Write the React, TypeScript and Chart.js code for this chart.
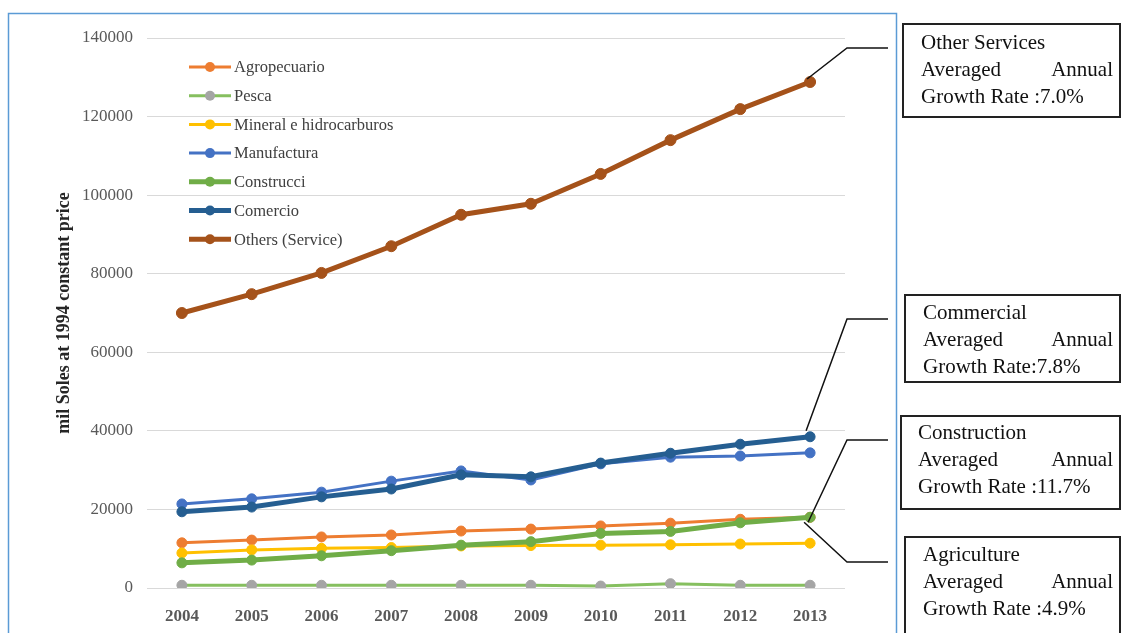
import React, { useEffect, useRef } from "react";
import { Chart, registerables } from "chart.js";

Chart.register(...registerables);

const years = ["2004", "2005", "2006", "2007", "2008", "2009", "2010", "2011", "2012", "2013"];

const agropecuario = [11500, 12200, 13000, 13500, 14500, 15000, 15800, 16500, 17500, 18000];
const pesca = [700, 700, 700, 700, 700, 700, 500, 1100, 700, 700];
const mineral = [8900, 9700, 10100, 10300, 10700, 10800, 10900, 11000, 11200, 11400];
const manufactura = [21400, 22700, 24400, 27200, 29800, 27500, 31600, 33300, 33600, 34400];
const construccion = [6400, 7100, 8200, 9500, 10900, 11800, 13900, 14400, 16600, 18000];
const comercio = [19400, 20600, 23200, 25200, 28800, 28300, 31800, 34300, 36600, 38500];
const others = [70000, 74800, 80200, 87000, 95000, 97800, 105400, 114000, 121900, 128800];

const seriesNames = [
  "Agropecuario",
  "Pesca",
  "Mineral e hidrocarburos",
  "Manufactura",
  "Construcci",
  "Comercio",
  "Others (Service)",
];

const yTicks = [0, 20000, 40000, 60000, 80000, 100000, 120000, 140000];

const annotations = [
  { title: "Other Services", rate: "Growth Rate :7.0%", series: 6 },
  { title: "Commercial", rate: "Growth Rate:7.8%", series: 5 },
  { title: "Construction", rate: "Growth Rate :11.7%", series: 4 },
  { title: "Agriculture", rate: "Growth Rate :4.9%", series: 0 },
];

const SERIF = '"Liberation Serif", "DejaVu Serif", serif';

export default function App() {
  const ref = useRef<HTMLCanvasElement | null>(null);

  useEffect(() => {
    const canvas = ref.current;
    if (!canvas) return;

    const lineColors = ["#ed7d31", "#86bf5f", "#ffc000", "#4472c4", "#70ad47", "#255e91", "#a5521a"];
    const pointColors = ["#ed7d31", "#a5a5a5", "#ffc000", "#4472c4", "#70ad47", "#255e91", "#a5521a"];
    const widths = [3, 3, 3, 3, 5, 5, 5];
    const radii = [5, 5, 5, 5, 5, 5, 5.5];
    const allData = [agropecuario, pesca, mineral, manufactura, construccion, comercio, others];

    const datasets = allData.map((d, i) => ({
      label: seriesNames[i],
      data: d,
      borderColor: lineColors[i],
      backgroundColor: pointColors[i],
      pointBackgroundColor: pointColors[i],
      pointBorderColor: pointColors[i],
      borderWidth: widths[i],
      pointRadius: radii[i],
      pointBorderWidth: 1,
      tension: 0,
      order: 10 - i,
    }));

    const overlay = {
      id: "overlay",
      afterDraw(chart: any) {
        const ctx = chart.ctx as CanvasRenderingContext2D;
        const xs = chart.scales.x;
        const ys = chart.scales.y;
        ctx.save();

        // legend
        const legX0 = 189;
        const legX1 = 231;
        const legY0 = 67;
        const legStep = 28.7;
        ctx.font = `16.5px ${SERIF}`;
        ctx.textBaseline = "middle";
        ctx.textAlign = "left";
        for (let i = 0; i < seriesNames.length; i++) {
          const y = legY0 + i * legStep;
          ctx.strokeStyle = lineColors[i];
          ctx.lineWidth = widths[i];
          ctx.beginPath();
          ctx.moveTo(legX0, y);
          ctx.lineTo(legX1, y);
          ctx.stroke();
          ctx.fillStyle = pointColors[i];
          ctx.beginPath();
          ctx.arc((legX0 + legX1) / 2, y, 5, 0, Math.PI * 2);
          ctx.fill();
          ctx.fillStyle = "#404040";
          ctx.fillText(seriesNames[i], 234, y + 1);
        }

        // outer blue frame
        ctx.strokeStyle = "#5b9bd5";
        ctx.lineWidth = 1.5;
        ctx.strokeRect(8.5, 13.5, 888, 640);

        // annotation boxes
        const boxes = [
          { x: 903, y: 24, h: 93, tx: 921, ty: 43, hy: 48 },
          { x: 905, y: 295, h: 87, tx: 923, ty: 313, hy: 319 },
          { x: 901, y: 416, h: 93, tx: 918, ty: 433, hy: 440 },
          { x: 905, y: 537, h: 110, tx: 923, ty: 555, hy: 562 },
        ];
        const pointOffsets = [
          [-3, -3],
          [-4, -6],
          [-2, 5],
          [-6, 5],
        ];
        annotations.forEach((a, i) => {
          const b = boxes[i];
          ctx.strokeStyle = "#222";
          ctx.lineWidth = 2;
          ctx.strokeRect(b.x, b.y, 1120 - b.x, b.h);
          ctx.fillStyle = "#111";
          ctx.font = `21px ${SERIF}`;
          ctx.textBaseline = "middle";
          ctx.textAlign = "left";
          ctx.fillText(a.title, b.tx, b.ty);
          ctx.fillText("Averaged", b.tx, b.ty + 27);
          ctx.textAlign = "right";
          ctx.fillText("Annual", 1113, b.ty + 27);
          ctx.textAlign = "left";
          ctx.fillText(a.rate, b.tx, b.ty + 54);

          const series = allData[a.series];
          const idx = series.length - 1;
          const px = xs.getPixelForValue(idx) + pointOffsets[i][0];
          const py = ys.getPixelForValue(series[idx]) + pointOffsets[i][1];
          ctx.strokeStyle = "#111";
          ctx.lineWidth = 1.5;
          ctx.beginPath();
          ctx.moveTo(px, py);
          ctx.lineTo(847, b.hy);
          ctx.lineTo(888, b.hy);
          ctx.stroke();
        });

        ctx.restore();
      },
    };

    const chart = new Chart(canvas, {
      type: "line",
      data: { labels: years, datasets },
      options: {
        responsive: false,
        animation: false,
        layout: { padding: { left: 54, top: 38, right: 276, bottom: 0 } },
        plugins: { legend: { display: false }, tooltip: { enabled: false } },
        scales: {
          x: {
            offset: true,
            grid: { display: false },
            border: { display: false },
            ticks: { font: { family: SERIF, size: 17, weight: "bold" }, color: "#595959", padding: 10 },
            afterFit: (s: any) => {
              s.height = 45;
            },
          },
          y: {
            min: 0,
            max: 140000,
            afterBuildTicks: (s: any) => {
              s.ticks = yTicks.map((v) => ({ value: v }));
            },
            ticks: {
              font: { family: SERIF, size: 17 },
              color: "#595959",
              padding: 14,
              callback: (v: any) => String(v),
            },
            grid: { color: "#d9d9d9", drawTicks: false },
            border: { display: false },
            title: {
              display: true,
              text: "mil Soles at 1994 constant price",
              font: { family: SERIF, size: 18, weight: "bold" },
              color: "#262626",
              padding: 0,
            },
            afterFit: (s: any) => {
              s.width = 93;
            },
          },
        },
      },
      plugins: [overlay],
    });

    return () => chart.destroy();
  }, []);

  return (
    <div style={{ position: "absolute", left: 0, top: 0, width: 1121, height: 633, background: "#fff" }}>
      <canvas ref={ref} width={1121} height={633} />
    </div>
  );
}
